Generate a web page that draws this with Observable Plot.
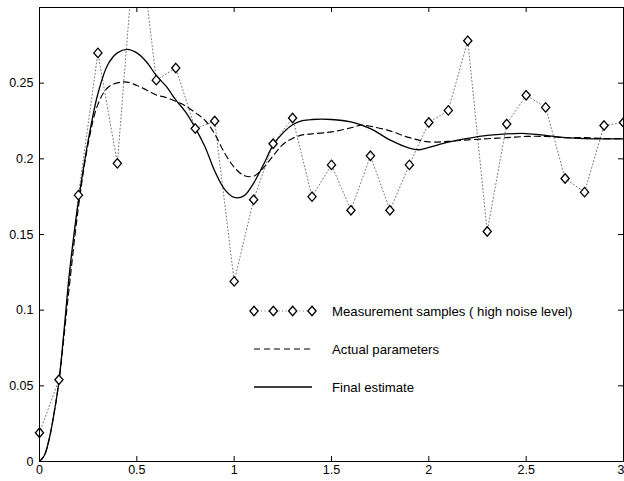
<!DOCTYPE html>
<html><head><meta charset="utf-8">
<script src="https://cdn.jsdelivr.net/npm/d3@7"></script>
<script src="https://cdn.jsdelivr.net/npm/@observablehq/plot@0.6"></script>
<style>
body{margin:0;background:#fff;}
#wrap{position:relative;width:624px;height:481px;font-family:"Liberation Sans",Arial,Helvetica,sans-serif;}
#wrap svg.overlay{position:absolute;left:0;top:0;pointer-events:none;}
</style></head><body><div id="wrap"></div>
<script>
// Measurement samples (high noise level)
const sampleX = [0,0.1,0.2,0.3,0.4,0.5,0.6,0.7,0.8,0.9,1.0,1.1,1.2,1.3,1.4,1.5,1.6,1.7,1.8,1.9,2.0,2.1,2.2,2.3,2.4,2.5,2.6,2.7,2.8,2.9,3.0];
const sampleY = [0.019,0.054,0.176,0.270,0.197,0.36,0.252,0.260,0.220,0.225,0.119,0.173,0.210,0.227,0.175,0.196,0.166,0.202,0.166,0.196,0.224,0.232,0.278,0.152,0.223,0.242,0.234,0.187,0.178,0.222,0.224];

// Actual parameters (dashed)
const actualX = [0,0.025,0.05,0.075,0.1,0.15,0.2,0.25,0.3,0.35,0.4,0.45,0.5,0.55,0.6,0.65,0.7,0.75,0.8,0.85,0.9,0.95,1.0,1.05,1.1,1.15,1.2,1.25,1.3,1.35,1.4,1.5,1.6,1.65,1.7,1.8,1.9,2.0,2.1,2.2,2.3,2.4,2.5,2.6,2.7,2.8,2.9,3.0];
const actualY = [0,0.004,0.015,0.032,0.053,0.112,0.168,0.210,0.236,0.247,0.2502,0.2507,0.2485,0.2455,0.2422,0.2405,0.238,0.235,0.2305,0.2255,0.2165,0.204,0.1945,0.189,0.1885,0.194,0.202,0.2095,0.2135,0.2158,0.2165,0.2178,0.2205,0.2222,0.2215,0.2185,0.214,0.2112,0.2115,0.2125,0.2133,0.214,0.2148,0.2148,0.214,0.214,0.2134,0.2134];

// Final estimate (solid)
const estimateX = [0,0.025,0.05,0.075,0.1,0.125,0.15,0.175,0.2,0.25,0.3,0.35,0.4,0.45,0.5,0.55,0.6,0.65,0.7,0.75,0.8,0.85,0.9,0.95,1.0,1.05,1.1,1.15,1.2,1.25,1.3,1.35,1.4,1.5,1.6,1.7,1.8,1.9,1.95,2.0,2.1,2.2,2.3,2.4,2.5,2.6,2.7,2.8,2.9,3.0];
const estimateY = [0,0.004,0.015,0.032,0.053,0.085,0.12,0.148,0.172,0.212,0.243,0.262,0.270,0.2723,0.270,0.264,0.255,0.248,0.239,0.231,0.2205,0.208,0.192,0.180,0.1745,0.1755,0.184,0.196,0.209,0.217,0.2225,0.2252,0.226,0.226,0.2244,0.220,0.2125,0.207,0.206,0.2075,0.211,0.2135,0.2155,0.2165,0.2167,0.2155,0.214,0.2133,0.2132,0.2132];

const xTicks = [0,0.5,1,1.5,2,2.5,3];
const xTickLabels = ["0","0.5","1","1.5","2","2.5","3"];
const yTicks = [0,0.05,0.1,0.15,0.2,0.25];
const yTickLabels = ["0","0.05","0.1","0.15","0.2","0.25"];
const legendLabels = ["Measurement samples ( high noise level)","Actual parameters","Final estimate"];

const samples = sampleX.map((x,i)=>({x, y: sampleY[i]}));
const actual = actualX.map((x,i)=>({x, y: actualY[i]}));
const estimate = estimateX.map((x,i)=>({x, y: estimateY[i]}));

const diamond = {draw(ctx, size){ const r = Math.sqrt(size/Math.PI); const w = r, h = r*1.15;
  ctx.moveTo(0,-h); ctx.lineTo(w,0); ctx.lineTo(0,h); ctx.lineTo(-w,0); ctx.closePath(); }};

const W = 624, H = 481, mL = 39, mR = 1, mT = 7, mB = 20;
const innerH = H - mT - mB, innerW = W - mL - mR, tick = 5;
const lastX = xTicks[xTicks.length-1];
const fmtX = d => xTickLabels[xTicks.indexOf(d)];

const chart = Plot.plot({
  width: W, height: H,
  marginLeft: mL, marginRight: mR, marginTop: mT, marginBottom: mB,
  style: {fontFamily: '"Liberation Sans",Arial,Helvetica,sans-serif', fontSize: "12px", background: "white", color: "black"},
  x: {domain: [0,3]},
  y: {domain: [0,0.3]},
  marks: [
    Plot.line(samples, {x:"x", y:"y", stroke:"#777", strokeWidth:1, strokeDasharray:"1,2.5", clip:true}),
    Plot.line(actual, {x:"x", y:"y", stroke:"black", strokeWidth:1.15, strokeDasharray:"6,4", curve:"catmull-rom", clip:true}),
    Plot.line(estimate, {x:"x", y:"y", stroke:"black", strokeWidth:1.3, curve:"catmull-rom", clip:true}),
    Plot.dot(samples, {filter: d => d.y <= 0.3, x:"x", y:"y", symbol: diamond, r: 4.1, stroke:"black", fill:"white", strokeWidth:1.3}),
    Plot.frame({stroke:"black", strokeWidth:1}),
    Plot.tickX(xTicks, {x: d=>d, insetTop: innerH - tick, stroke:"black"}),
    Plot.tickX(xTicks, {x: d=>d, insetBottom: innerH - tick, stroke:"black"}),
    Plot.tickY(yTicks, {y: d=>d, insetRight: innerW - tick, stroke:"black"}),
    Plot.tickY(yTicks, {y: d=>d, insetLeft: innerW - tick, stroke:"black"}),
    Plot.axisX({ticks: xTicks.filter(d => d !== lastX), tickFormat: fmtX, tickSize: 0, tickPadding: 4, label: null, fontSize: 12.5}),
    Plot.axisX({ticks: [lastX], tickFormat: fmtX, tickSize: 0, tickPadding: 4, label: null, textAnchor: "end", dx: 1, fontSize: 12.5}),
    Plot.axisY({ticks: yTicks, tickFormat: d => yTickLabels[yTicks.indexOf(d)], tickSize: 0, tickPadding: 6, label: null, fontSize: 12.5})
  ]
});
const wrap = document.getElementById("wrap");
wrap.appendChild(chart);

// Legend overlay
const ov = d3.select(wrap).append("svg").attr("class","overlay").attr("width",W).attr("height",H);
const lx0 = 254, lx1 = 312, tx = 332, rows = [311, 349, 387];
const g0 = ov.append("g");
g0.append("line").attr("x1",lx0).attr("x2",lx1).attr("y1",rows[0]).attr("y2",rows[0])
  .attr("stroke","#777").attr("stroke-dasharray","1,2.5");
[0,1,2,3].forEach(i=>{
  const cx = lx0 + i*(lx1-lx0)/3, cy = rows[0], w = 4.1, h = 4.7;
  g0.append("path").attr("d",`M${cx},${cy-h}L${cx+w},${cy}L${cx},${cy+h}L${cx-w},${cy}Z`)
    .attr("fill","white").attr("stroke","black").attr("stroke-width",1.3);
});
ov.append("line").attr("x1",lx0).attr("x2",lx1).attr("y1",rows[1]).attr("y2",rows[1])
  .attr("stroke","black").attr("stroke-width",1.15).attr("stroke-dasharray","6,4");
ov.append("line").attr("x1",lx0).attr("x2",lx1).attr("y1",rows[2]).attr("y2",rows[2])
  .attr("stroke","black").attr("stroke-width",1.3);
legendLabels.forEach((t,i)=>{
  ov.append("text").attr("x",tx).attr("y",rows[i]).attr("dy","0.35em")
    .attr("font-family",'"Liberation Sans",Arial,Helvetica,sans-serif').attr("font-size",13.2)
    .attr("fill","black").text(t);
});
</script>
</body></html>
